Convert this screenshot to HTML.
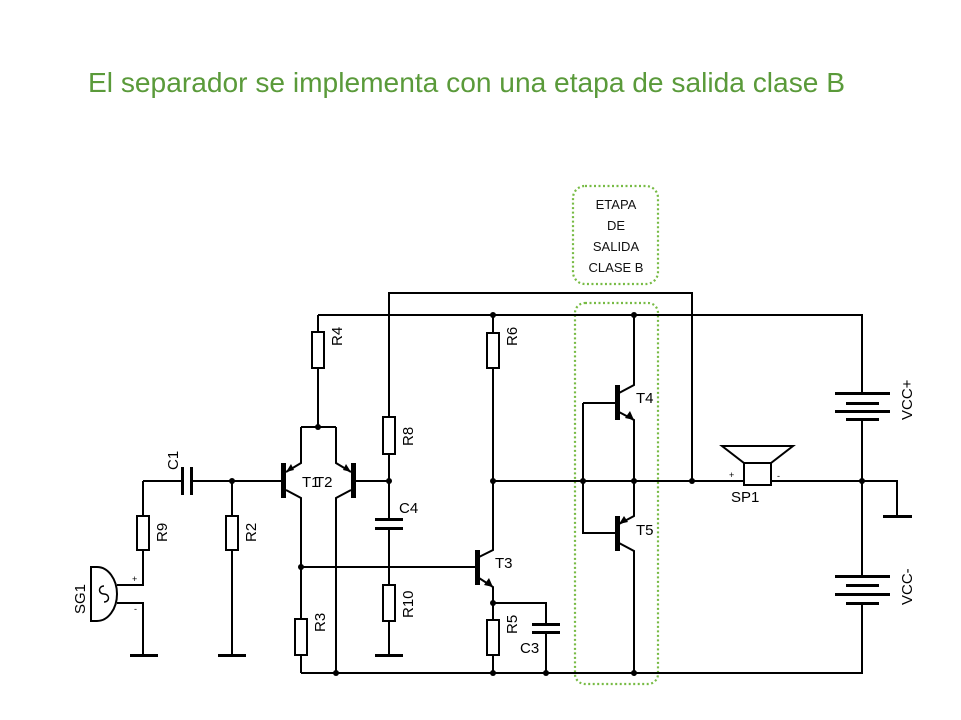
<!DOCTYPE html>
<html><head><meta charset="utf-8"><style>
body{margin:0;background:#fff;}
svg{display:block;}
.w{stroke:#000;stroke-width:2;fill:none;}
.r{stroke:#000;stroke-width:2;fill:#fff;}
.t{font-family:"Liberation Sans",sans-serif;font-size:15px;fill:#000;}
.g{font-family:"Liberation Sans",sans-serif;font-size:13px;fill:#111;text-anchor:middle;}
</style></head><body>
<svg width="961" height="720" viewBox="0 0 961 720" xmlns="http://www.w3.org/2000/svg">
<text x="88" y="92" font-family="Liberation Sans, sans-serif" font-size="28" fill="#5a9a3a" textLength="757" lengthAdjust="spacingAndGlyphs">El separador se implementa con una etapa de salida clase B</text>

<rect x="573" y="186" width="85" height="98" rx="12" fill="none" stroke="#77bb44" stroke-width="2.2" stroke-dasharray="2,2.5"/>
<text class="g" x="616" y="209">ETAPA</text>
<text class="g" x="616" y="230">DE</text>
<text class="g" x="616" y="251">SALIDA</text>
<text class="g" x="616" y="272">CLASE B</text>
<rect x="575" y="303" width="83" height="381" rx="10" fill="none" stroke="#77bb44" stroke-width="2.2" stroke-dasharray="2,2.5"/>

<g class="w">
<path d="M318 315H862V393"/>
<path d="M389 481V293H692V481"/>
<path d="M318 315V427"/>
<path d="M301 427H336"/>
<path d="M301 427V463L286 472"/>
<path d="M336 427V463L351 472"/>
<path d="M286 490L301 498V673"/>
<path d="M351 490L336 498V673"/>
<path d="M232 481H284"/>
<path d="M353 481H389"/>
<path d="M143 481H183M192 481H232"/>
<path d="M143 481V585H117M117 603H143V655"/>
<path d="M232 481V655"/>
<path d="M389 481V520M389 529V655"/>
<path d="M301 567H477"/>
<path d="M301 673H862V603"/>
<path d="M493 315V550L479 557"/>
<path d="M479 578L493 587V673"/>
<path d="M493 603H546V625M546 633V673"/>
<path d="M493 481H744M771 481H897V516"/>
<path d="M634 315V385L619 393"/>
<path d="M619 412L634 420V481"/>
<path d="M634 481V516L619 524"/>
<path d="M619 543L634 551V673"/>
<path d="M583 403H617M583 403V533H617"/>
<path d="M862 419V576"/>
</g>
<g fill="#000">
<polygon points="286,472 291,464 294,470"/>
<polygon points="351,472 343,470 346,464"/>
<polygon points="493,587 484,585 489,578"/>
<polygon points="634,420 625,418 630,411"/>
<polygon points="619,524 624,516 628,522"/>
</g>
<g fill="#000">
<rect x="281" y="463" width="5" height="35"/>
<rect x="351" y="463" width="5" height="35"/>
<rect x="475" y="550" width="5" height="35"/>
<rect x="615" y="385" width="5" height="35"/>
<rect x="615" y="516" width="5" height="35"/>
</g>
<g class="r">
<rect x="312" y="332" width="12" height="36"/>
<rect x="487" y="333" width="12" height="35"/>
<rect x="383" y="417" width="12" height="37"/>
<rect x="137" y="516" width="12" height="34"/>
<rect x="226" y="516" width="12" height="34"/>
<rect x="295" y="619" width="12" height="36"/>
<rect x="383" y="585" width="12" height="36"/>
<rect x="487" y="620" width="12" height="35"/>
</g>
<g fill="#000">
<rect x="181" y="467" width="3" height="28"/>
<rect x="190" y="467" width="3" height="28"/>
<rect x="375" y="518" width="28" height="3"/>
<rect x="375" y="527" width="28" height="3"/>
<rect x="532" y="623" width="28" height="3"/>
<rect x="532" y="631" width="28" height="3"/>
<rect x="835" y="392" width="55" height="3"/>
<rect x="846" y="402" width="33" height="3"/>
<rect x="835" y="410" width="55" height="3"/>
<rect x="846" y="418" width="33" height="3"/>
<rect x="835" y="575" width="55" height="3"/>
<rect x="846" y="584" width="33" height="3"/>
<rect x="835" y="593" width="55" height="3"/>
<rect x="846" y="602" width="33" height="3"/>
<rect x="130" y="654" width="28" height="3"/>
<rect x="218" y="654" width="28" height="3"/>
<rect x="375" y="654" width="28" height="3"/>
<rect x="883" y="515" width="29" height="3"/>
</g>
<g fill="#000">
<circle cx="318" cy="427" r="3"/><circle cx="232" cy="481" r="3"/><circle cx="389" cy="481" r="3"/>
<circle cx="301" cy="567" r="3"/><circle cx="336" cy="673" r="3"/><circle cx="493" cy="315" r="3"/>
<circle cx="634" cy="315" r="3"/><circle cx="493" cy="481" r="3"/><circle cx="583" cy="481" r="3"/>
<circle cx="634" cy="481" r="3"/><circle cx="692" cy="481" r="3"/><circle cx="862" cy="481" r="3"/>
<circle cx="493" cy="603" r="3"/><circle cx="493" cy="673" r="3"/><circle cx="546" cy="673" r="3"/>
<circle cx="634" cy="673" r="3"/>
</g>
<path d="M91 567H97A20 27 0 0 1 97 621H91Z" class="r"/>
<path d="M104 586c-6 0-6 8 0 8s6 8 0 8" stroke="#000" stroke-width="1.5" fill="none"/>
<text x="132" y="582" font-family="Liberation Sans,sans-serif" font-size="9">+</text>
<text x="134" y="612" font-family="Liberation Sans,sans-serif" font-size="9">-</text>
<path d="M722 446H793L771 463H744Z" class="r"/>
<rect x="744" y="463" width="27" height="22" class="r"/>
<text x="729" y="478" font-family="Liberation Sans,sans-serif" font-size="9">+</text>
<text x="777" y="479" font-family="Liberation Sans,sans-serif" font-size="9">-</text>
<text class="t" x="731" y="502">SP1</text>
<g class="t">
<text transform="translate(342,346) rotate(-90)">R4</text>
<text transform="translate(517,346) rotate(-90)">R6</text>
<text transform="translate(413,446) rotate(-90)">R8</text>
<text transform="translate(167,542) rotate(-90)">R9</text>
<text transform="translate(256,542) rotate(-90)">R2</text>
<text transform="translate(325,632) rotate(-90)">R3</text>
<text transform="translate(413,618) rotate(-90)">R10</text>
<text transform="translate(517,634) rotate(-90)">R5</text>
<text transform="translate(178,470) rotate(-90)">C1</text>
<text transform="translate(85,614) rotate(-90)">SG1</text>
<text transform="translate(912,420) rotate(-90)">VCC+</text>
<text transform="translate(912,605) rotate(-90)">VCC-</text>
<text x="399" y="513">C4</text>
<text x="520" y="653">C3</text>
<text x="302" y="487">T1</text>
<text x="315" y="487">T2</text>
<text x="495" y="568">T3</text>
<text x="636" y="403">T4</text>
<text x="636" y="535">T5</text>
</g>
</svg>
</body></html>
